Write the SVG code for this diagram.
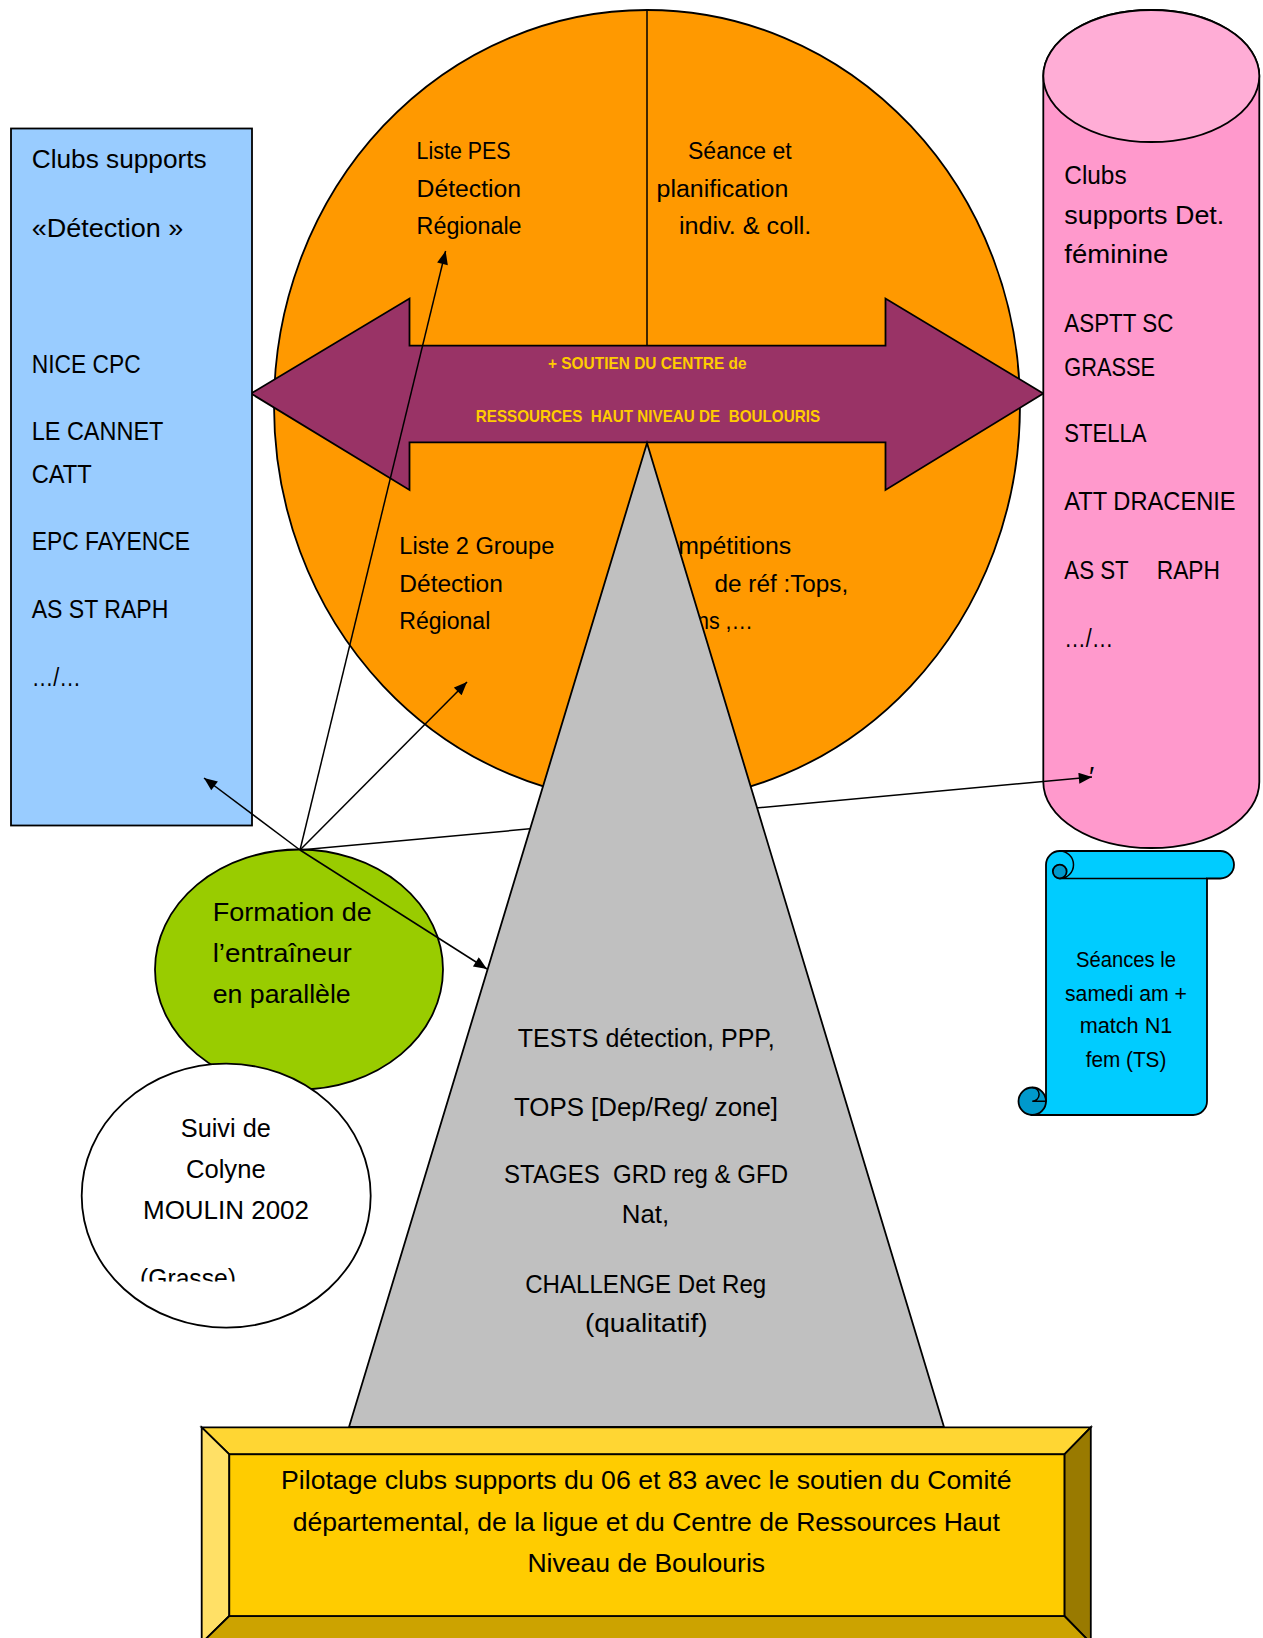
<svg xmlns="http://www.w3.org/2000/svg" width="1263" height="1638" viewBox="0 0 1263 1638">
<style>
.t{font-family:"Liberation Sans",Arial,sans-serif;fill:#000;}
.o{font-size:23.5px;}
.b{font-size:26px;}
.tri{font-size:25px;text-anchor:middle;}
.sc{font-size:21.3px;text-anchor:middle;}
.base{font-size:25px;text-anchor:middle;}
.arrowtxt{font-family:"Liberation Sans",Arial,sans-serif;font-weight:bold;font-size:16.7px;fill:#FFCC00;text-anchor:middle;}
.pre{white-space:pre;}
.ln{stroke:#000;stroke-width:1.5;fill:none;}
.conn{stroke:#000;stroke-width:1.5;fill:none;marker-end:url(#ah);}
.sh{stroke:#000;stroke-width:1.8;}
</style>
<defs>
<marker id="ah" viewBox="0 0 12 10" refX="12" refY="5" markerWidth="15" markerHeight="11" markerUnits="userSpaceOnUse" orient="auto"><path d="M0,0 L12,5 L0,10 z" fill="#000"/></marker>
<clipPath id="clipGrasse"><rect x="100" y="1200" width="260" height="81.5"/></clipPath>
</defs>
<rect width="1263" height="1638" fill="#fff"/>

<g id="orange-circle">
<ellipse cx="647" cy="406" rx="373" ry="396" fill="#FF9900" class="sh"/>
<line x1="647" y1="10" x2="647" y2="346" class="ln"/>
<text class="t o" x="416.6" y="159" textLength="94" lengthAdjust="spacingAndGlyphs">Liste PES</text>
<text class="t o" x="416.6" y="196.5" textLength="104.5" lengthAdjust="spacingAndGlyphs">Détection</text>
<text class="t o" x="416.6" y="234" textLength="105" lengthAdjust="spacingAndGlyphs">Régionale</text>
<text class="t o" x="688" y="159" textLength="103.7" lengthAdjust="spacingAndGlyphs">Séance et</text>
<text class="t o" x="656.5" y="196.5" textLength="131.8" lengthAdjust="spacingAndGlyphs">planification</text>
<text class="t o" x="679" y="234" textLength="132.3" lengthAdjust="spacingAndGlyphs">indiv. &amp; coll.</text>
<text class="t o" x="399.3" y="554" textLength="155" lengthAdjust="spacingAndGlyphs">Liste 2 Groupe</text>
<text class="t o" x="399.3" y="592" textLength="103.6" lengthAdjust="spacingAndGlyphs">Détection</text>
<text class="t o" x="399.3" y="629" textLength="91" lengthAdjust="spacingAndGlyphs">Régional</text>
<text class="t o" x="646.5" y="554" textLength="144.6" lengthAdjust="spacingAndGlyphs">Compétitions</text>
<text class="t o" x="714.6" y="592" textLength="133.6" lengthAdjust="spacingAndGlyphs">de réf :Tops,</text>
<text class="t o" x="697" y="629" textLength="56" lengthAdjust="spacingAndGlyphs">ns ,…</text>
</g>

<g id="double-arrow">
<polygon points="251,393.5 409.5,298.5 409.5,345.7 885.5,345.7 885.5,298.5 1043.3,393.5 885.5,490 885.5,442.3 409.5,442.3 409.5,490" fill="#993366" class="sh"/>
<text class="arrowtxt" x="647.3" y="369" textLength="198.6" lengthAdjust="spacingAndGlyphs">+ SOUTIEN DU CENTRE de</text>
<text class="arrowtxt pre" xml:space="preserve" x="647.9" y="421.7" textLength="344.3" lengthAdjust="spacingAndGlyphs">RESSOURCES  HAUT NIVEAU DE  BOULOURIS</text>
</g>

<g id="clubs-detection">
<rect x="11" y="128.5" width="241" height="697" fill="#99CCFF" class="sh"/>
<text class="t b" x="31.7" y="168" textLength="175" lengthAdjust="spacingAndGlyphs">Clubs supports</text>
<text class="t b" x="31.7" y="237" textLength="151.7" lengthAdjust="spacingAndGlyphs">«Détection »</text>
<text class="t b" x="31.7" y="372.5" textLength="109" lengthAdjust="spacingAndGlyphs">NICE CPC</text>
<text class="t b" x="31.7" y="440" textLength="131.7" lengthAdjust="spacingAndGlyphs">LE CANNET</text>
<text class="t b" x="31.7" y="482.7" textLength="60" lengthAdjust="spacingAndGlyphs">CATT</text>
<text class="t b" x="31.7" y="550.2" textLength="158.3" lengthAdjust="spacingAndGlyphs">EPC FAYENCE</text>
<text class="t b" x="31.7" y="618.2" textLength="136.7" lengthAdjust="spacingAndGlyphs">AS ST RAPH</text>
<text class="t b" x="31.7" y="686" textLength="49.3" lengthAdjust="spacingAndGlyphs">…/…</text>
</g>

<g id="clubs-feminine">
<path d="M1043.3,76 L1043.3,782 A108,66 0 0 0 1259.3,782 L1259.3,76 A108,66 0 0 0 1043.3,76 Z" fill="#FF99CC" class="sh"/>
<ellipse cx="1151.3" cy="76" rx="108" ry="66" fill="#FFADD6" class="sh"/>
<text class="t b" x="1064.3" y="183.8" textLength="62.3" lengthAdjust="spacingAndGlyphs">Clubs</text>
<text class="t b" x="1064.3" y="223.8" textLength="160" lengthAdjust="spacingAndGlyphs">supports Det.</text>
<text class="t b" x="1064.3" y="263.3" textLength="104" lengthAdjust="spacingAndGlyphs">féminine</text>
<text class="t b" x="1064.3" y="331.9" textLength="109" lengthAdjust="spacingAndGlyphs">ASPTT SC</text>
<text class="t b" x="1064.3" y="375.8" textLength="90.7" lengthAdjust="spacingAndGlyphs">GRASSE</text>
<text class="t b" x="1064.3" y="441.6" textLength="82.3" lengthAdjust="spacingAndGlyphs">STELLA</text>
<text class="t b" x="1064.3" y="510.2" textLength="171.3" lengthAdjust="spacingAndGlyphs">ATT DRACENIE</text>
<text class="t b" y="578.7"><tspan x="1064.3" textLength="64" lengthAdjust="spacingAndGlyphs">AS ST</tspan> <tspan x="1156.7" textLength="63.3" lengthAdjust="spacingAndGlyphs">RAPH</tspan></text>
<text class="t b" x="1064.3" y="647.3" textLength="49" lengthAdjust="spacingAndGlyphs">…/…</text>
<text class="t" x="1089" y="786" font-size="28">′</text>
</g>

<g id="scroll-seances">
<path d="M1046,1101.25 L1046,864.75 A13.75,13.75 0 0 1 1059.75,851 L1220.25,851 A13.75,13.75 0 0 1 1220.25,878.5 L1207,878.5 L1207,1101.25 A13.75,13.75 0 0 1 1193.25,1115 L1032.25,1115 Z" fill="#00CCFF" class="sh"/>
<path d="M1059.75,851 A13.75,13.75 0 0 1 1059.75,878.5 L1207,878.5" class="ln" stroke-width="1.8"/>
<circle cx="1059.75" cy="871.6" r="6.9" fill="#0099CC" class="sh"/>
<circle cx="1032.25" cy="1101.25" r="13.75" fill="#0099CC" class="sh"/>
<path d="M1032.25,1087.5 A6.875,6.875 0 0 1 1032.25,1101.25 L1046,1101.25" class="ln" stroke-width="1.8"/>
<text class="t sc" x="1126" y="966.7" textLength="100" lengthAdjust="spacingAndGlyphs">Séances le</text>
<text class="t sc" x="1126" y="1000.7" textLength="122" lengthAdjust="spacingAndGlyphs">samedi am +</text>
<text class="t sc" x="1126" y="1033.3" textLength="92.7" lengthAdjust="spacingAndGlyphs">match N1</text>
<text class="t sc" x="1126" y="1067.3" textLength="80.7" lengthAdjust="spacingAndGlyphs">fem (TS)</text>
</g>

<g id="formation">
<ellipse cx="299" cy="969.5" rx="144" ry="120" fill="#99CC00" class="sh"/>
<text class="t b" x="212.7" y="921" textLength="159" lengthAdjust="spacingAndGlyphs">Formation de</text>
<text class="t b" x="212.7" y="962" textLength="139" lengthAdjust="spacingAndGlyphs">l’entraîneur</text>
<text class="t b" x="212.7" y="1003" textLength="138" lengthAdjust="spacingAndGlyphs">en parallèle</text>
</g>

<g id="suivi">
<ellipse cx="226.2" cy="1195.7" rx="144.5" ry="132" fill="#fff" class="sh"/>
<text class="t b" x="225.8" y="1137" text-anchor="middle" textLength="90" lengthAdjust="spacingAndGlyphs">Suivi de</text>
<text class="t b" x="225.8" y="1177.5" text-anchor="middle" textLength="79.7" lengthAdjust="spacingAndGlyphs">Colyne</text>
<text class="t b" x="226" y="1219" text-anchor="middle" textLength="166" lengthAdjust="spacingAndGlyphs">MOULIN 2002</text>
<text class="t b" x="140" y="1287" textLength="96" lengthAdjust="spacingAndGlyphs" clip-path="url(#clipGrasse)">(Grasse)</text>
</g>

<g id="connectors">
<line x1="300" y1="850" x2="204" y2="778" class="conn"/>
<line x1="300" y1="850" x2="445.6" y2="251" class="conn"/>
<line x1="300" y1="850" x2="467" y2="682" class="conn"/>
<line x1="300" y1="850" x2="487" y2="969" class="conn"/>
<line x1="300" y1="850" x2="1092" y2="777" class="conn"/>
</g>

<g id="triangle">
<polygon points="647,443 944,1427 349,1427" fill="#C0C0C0" class="sh"/>
<text class="t tri" x="646.3" y="1047" textLength="257" lengthAdjust="spacingAndGlyphs">TESTS détection, PPP,</text>
<text class="t tri" x="646" y="1116" textLength="264" lengthAdjust="spacingAndGlyphs">TOPS [Dep/Reg/ zone]</text>
<text class="t tri pre" xml:space="preserve" x="646" y="1183" textLength="284" lengthAdjust="spacingAndGlyphs">STAGES  GRD reg &amp; GFD</text>
<text class="t tri" x="645.5" y="1223" textLength="47.4" lengthAdjust="spacingAndGlyphs">Nat,</text>
<text class="t tri" x="645.7" y="1293" textLength="241" lengthAdjust="spacingAndGlyphs">CHALLENGE Det Reg</text>
<text class="t tri" x="646.3" y="1332" textLength="122.6" lengthAdjust="spacingAndGlyphs">(qualitatif)</text>
</g>

<g id="pilotage">
<polygon points="201.7,1427.3 1090.8,1427.3 1064.4,1454.3 229.3,1454.3" fill="#FFD633" class="sh"/>
<polygon points="201.7,1427.3 229.3,1454.3 229.3,1616 201.7,1643" fill="#FFE066" class="sh"/>
<polygon points="1090.8,1427.3 1090.8,1643 1064.4,1616 1064.4,1454.3" fill="#997A00" class="sh"/>
<polygon points="229.3,1616 1064.4,1616 1090.8,1643 201.7,1643" fill="#CCA300" class="sh"/>
<rect x="229.3" y="1454.3" width="835.1" height="161.7" fill="#FFCC00" class="sh"/>
<text class="t base" x="646.3" y="1489" textLength="730.6" lengthAdjust="spacingAndGlyphs">Pilotage clubs supports du 06 et 83 avec le soutien du Comité</text>
<text class="t base" x="646.3" y="1530.5" textLength="707" lengthAdjust="spacingAndGlyphs">départemental, de la ligue et du Centre de Ressources Haut</text>
<text class="t base" x="646.3" y="1572" textLength="237.7" lengthAdjust="spacingAndGlyphs">Niveau de Boulouris</text>
</g>
</svg>
